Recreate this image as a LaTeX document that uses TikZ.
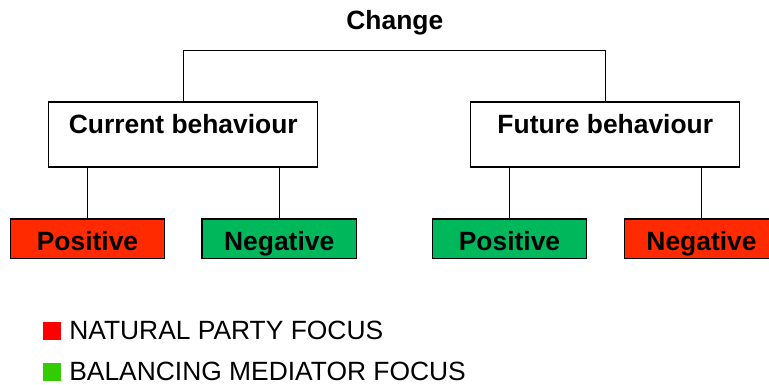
\documentclass[tikz,border=0pt]{standalone}
\usepackage{fontspec}
\setmainfont{Liberation Sans}
\usetikzlibrary{calc}
\definecolor{boxred}{HTML}{FF2A00}
\definecolor{boxgreen}{HTML}{00B85C}
\definecolor{keyred}{HTML}{FF0000}
\definecolor{keygreen}{HTML}{33CC00}
\tikzset{
    every node/.style={
        font=\fontsize{26.4}{31}\selectfont
    },
    headbox/.style={
        draw, line width=1.2pt, anchor=base,
        inner xsep=0pt, inner ysep=0pt,
        minimum width=269pt,
        text height=32pt, text depth=33pt,
        font=\fontsize{26.4}{31}\selectfont\bfseries
    },
    leafbox/.style={
        draw, line width=1.2pt, anchor=base,
        inner xsep=0pt, inner ysep=0pt,
        minimum width=154.4pt,
        text height=32pt, text depth=7.3pt,
        font=\fontsize{26.4}{31}\selectfont\bfseries
    },
    keybox/.style={
        inner sep=0pt, minimum size=17.7pt
    },
    keytext/.style={
        anchor=base west, inner sep=0pt
    }
}

\begin{document}
\begin{tikzpicture}[x=1pt, y=-1pt, line width=1pt]
    \useasboundingbox (0,0) rectangle (769,385);
    \node[anchor=base, inner sep=0pt, font=\fontsize{26.4}{31}\selectfont\bfseries] (change) at (394.8, 30) {Change};
    \coordinate (join) at (394.8, 50.7);
    \node[headbox] (cur) at (183.3, 134) {Current behaviour};
    \node[headbox] (fut) at (605.3, 134) {Future behaviour};
    \draw (cur.north) |- (join) -| (fut.north);
    \foreach \name/\x/\col/\txt/\up in {
        cpos/87.5/boxred/Positive/cur,
        cneg/279.2/boxgreen/Negative/cur,
        fpos/509.5/boxgreen/Positive/fut,
        fneg/701.5/boxred/Negative/fut}{
        \node[leafbox, fill=\col] (\name) at (\x, 251) {\txt};
        \draw (\up.south -| \name.north) -- (\name.north);
    }
    % legend
    \node[keybox, fill=keyred] (kred) at (52.2, 331.2) {};
    \node[keytext] (tred) at (68.8, 339.5) {NATURAL PARTY FOCUS};
    \node[keybox, fill=keygreen] (kgreen) at (52.2, 372.2) {};
    \node[keytext] (tgreen) at (68.8, 380.5) {BALANCING MEDIATOR FOCUS};
\end{tikzpicture}
\end{document}
